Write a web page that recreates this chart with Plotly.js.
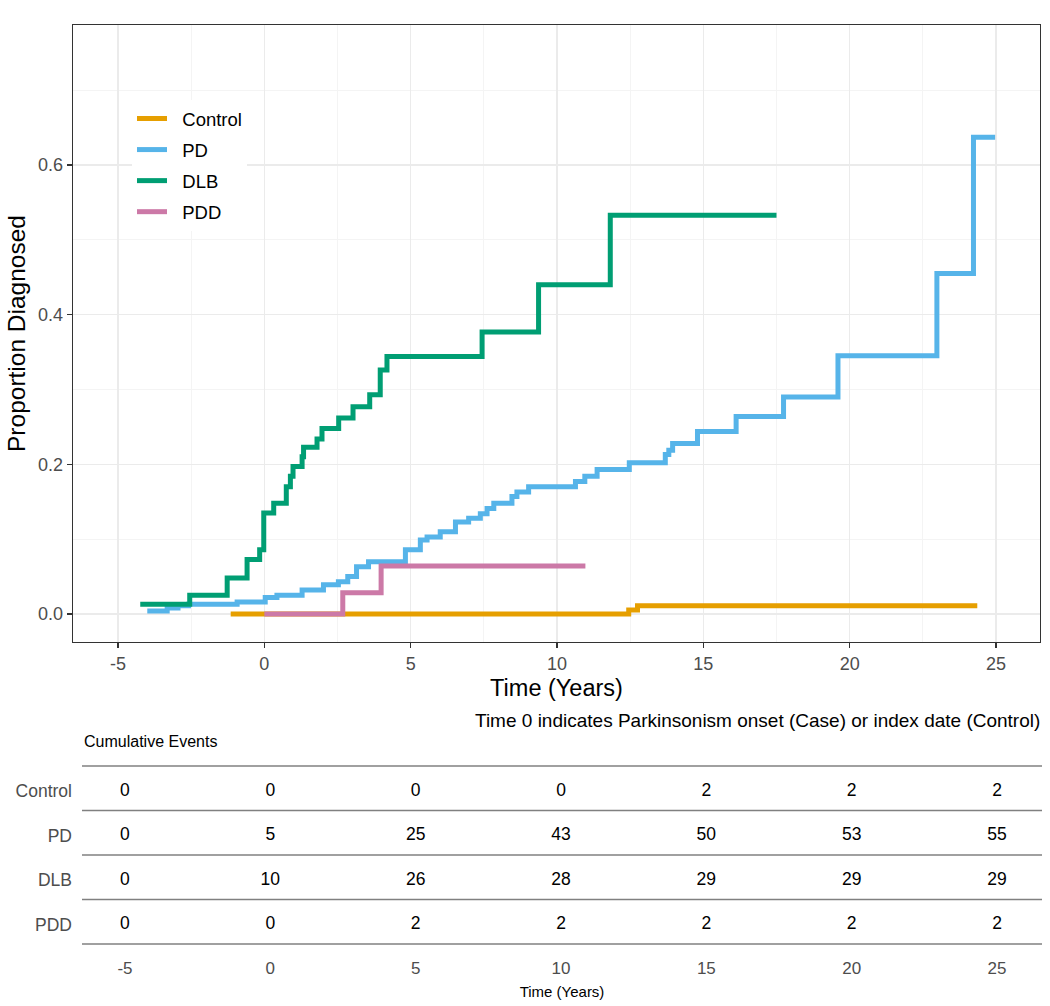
<!DOCTYPE html>
<html>
<head>
<meta charset="utf-8">
<script src="https://cdn.plot.ly/plotly-3.0.1.min.js"></script>
<style>html,body{margin:0;padding:0;background:#fff;}#chart{width:1050px;height:1006px;}</style>
</head>
<body>
<div id="chart"></div>
<script>
// ---- Step curve data (time in years, proportion diagnosed) ----
const controlTime = [-1.15, 12.45, 12.75, 24.36];
const controlProp = [0.0, 0.0055, 0.011, 0.011];

const pdTime = [-4.0, -3.32, -2.95, -2.59, -0.93, 0.03, 0.43, 1.29, 2.02, 2.53, 2.85, 3.15, 3.56, 4.82, 5.33, 5.56, 6.01, 6.53, 6.98, 7.38, 7.61, 7.84, 8.46, 8.63, 9.03, 10.63, 10.95, 11.37, 12.47, 13.7, 13.82, 13.95, 14.8, 16.12, 17.74, 19.6, 22.98, 24.23, 24.97];
const pdProp = [0.004, 0.008, 0.011, 0.013, 0.016, 0.022, 0.025, 0.032, 0.039, 0.043, 0.050, 0.063, 0.070, 0.086, 0.099, 0.103, 0.110, 0.123, 0.128, 0.134, 0.141, 0.148, 0.157, 0.163, 0.170, 0.177, 0.184, 0.193, 0.202, 0.213, 0.219, 0.228, 0.244, 0.264, 0.290, 0.345, 0.455, 0.637, 0.637];

const dlbTime = [-4.24, -2.55, -1.27, -0.59, -0.16, -0.02, 0.32, 0.75, 0.89, 0.98, 1.29, 1.34, 1.80, 1.97, 2.54, 3.03, 3.60, 3.96, 4.19, 7.44, 9.37, 11.82, 17.5];
const dlbProp = [0.013, 0.025, 0.048, 0.073, 0.086, 0.135, 0.148, 0.170, 0.184, 0.197, 0.210, 0.223, 0.234, 0.248, 0.262, 0.277, 0.293, 0.326, 0.344, 0.377, 0.440, 0.533, 0.533];

const pddTime = [0.0, 2.68, 3.99, 10.97];
const pddProp = [0.0, 0.0285, 0.064, 0.064];

// ---- Risk table: cumulative events ----
const groups = ["Control", "PD", "DLB", "PDD"];
const tableTimes = [-5, 0, 5, 10, 15, 20, 25];
const eventsControl = [0, 0, 0, 0, 2, 2, 2];
const eventsPD = [0, 5, 25, 43, 50, 53, 55];
const eventsDLB = [0, 10, 26, 28, 29, 29, 29];
const eventsPDD = [0, 0, 2, 2, 2, 2, 2];

const xTicks = [-5, 0, 5, 10, 15, 20, 25];
const xTickText = ["-5", "0", "5", "10", "15", "20", "25"];
const yTicks = [0.0, 0.2, 0.4, 0.6];
const yTickText = ["0.0", "0.2", "0.4", "0.6"];

const colors = {Control: "#E69F00", PD: "#56B4E9", DLB: "#009E73", PDD: "#CC79A7"};
const FONT = "Liberation Sans, Arial, Helvetica, sans-serif";
const W = 1050, H = 1006;

const curves = [
  ["Control", controlTime, controlProp],
  ["PD", pdTime, pdProp],
  ["DLB", dlbTime, dlbProp],
  ["PDD", pddTime, pddProp]
];

const traces = curves.map(([name, t, p]) => ({
  type: "scatter", mode: "lines", name: "\u00a0\u00a0" + name, x: t, y: p,
  line: {shape: "hv", color: colors[name], width: 5},
  legendgroup: name, xaxis: "x", yaxis: "y", hoverinfo: "skip"
}));

const eventRows = [eventsControl, eventsPD, eventsDLB, eventsPDD];
eventRows.forEach((vals, i) => {
  traces.push({
    type: "scatter", mode: "text", x: tableTimes, y: tableTimes.map(() => i + 1),
    text: vals.map(String), textposition: "middle center",
    textfont: {family: FONT, size: 17.5, color: "#000"},
    xaxis: "x2", yaxis: "y2", showlegend: false, hoverinfo: "skip", cliponaxis: false
  });
});

const px = v => v / W;
const py = v => (H - v) / H;

const shapes = [766, 810.5, 855, 899.5, 944].map(yp => ({
  type: "line", xref: "paper", yref: "paper", x0: px(82), x1: px(1042), y0: py(yp), y1: py(yp),
  line: {color: "#808080", width: 1.5}
}));

const layout = {
  width: W, height: H,
  margin: {l: 0, r: 0, t: 0, b: 0},
  paper_bgcolor: "#fff", plot_bgcolor: "#fff",
  font: {family: FONT, color: "#000"},
  showlegend: true,
  legend: {
    x: px(132), y: py(100), xanchor: "left", yanchor: "top",
    bgcolor: "#fff", font: {size: 18.5, color: "#000"},
    tracegroupgap: 4, itemwidth: 30, traceorder: "grouped"
  },
  xaxis: {
    domain: [px(73), px(1040)], range: [-6.538, 26.503], anchor: "y",
    tickvals: xTicks, ticktext: xTickText, ticks: "outside", ticklen: 5, tickcolor: "#333", tickwidth: 1.2,
    tickfont: {size: 18, color: "#4d4d4d"},
    showline: true, mirror: true, linecolor: "#333", linewidth: 1.3,
    showgrid: true, gridcolor: "#ebebeb", gridwidth: 1.2, zeroline: false,
    minor: {dtick: 2.5, tick0: -2.5, showgrid: true, gridcolor: "#f4f4f4", gridwidth: 1},
    title: {text: "Time (Years)", font: {size: 23.5, color: "#000"}, standoff: 6},
    automargin: false
  },
  yaxis: {
    domain: [py(642), py(25)], range: [-0.0374, 0.7871], anchor: "x",
    tickvals: yTicks, ticktext: yTickText, ticks: "outside", ticklen: 5, tickcolor: "#333", tickwidth: 1.2,
    tickfont: {size: 18, color: "#4d4d4d"},
    showline: true, mirror: true, linecolor: "#333", linewidth: 1.3,
    showgrid: true, gridcolor: "#ebebeb", gridwidth: 1.2, zeroline: false,
    minor: {dtick: 0.1, tick0: 0.1, showgrid: true, gridcolor: "#f4f4f4", gridwidth: 1},
    title: {text: "Proportion Diagnosed", font: {size: 24.5, color: "#000"}, standoff: 5},
    automargin: false
  },
  xaxis2: {
    domain: [px(82), px(1042)], range: [-6.479, 26.548], anchor: "y2",
    tickvals: tableTimes, ticktext: xTickText, ticks: "", tickfont: {size: 17, color: "#4d4d4d"},
    ticklabelstandoff: 12,
    showline: false, showgrid: false, zeroline: false,
    title: {text: "Time (Years)", font: {size: 15, color: "#000"}, standoff: 9},
    automargin: false
  },
  yaxis2: {
    domain: [py(944), py(766)], range: [4.433, 0.433], anchor: "x2",
    tickvals: [1, 2, 3, 4], ticktext: groups, ticks: "",
    tickfont: {size: 17.5, color: "#4d4d4d"}, ticklabelstandoff: 9,
    showline: false, showgrid: false, zeroline: false, automargin: false
  },
  shapes: shapes,
  annotations: [
    {xref: "paper", yref: "paper", x: px(1042), y: py(720), xanchor: "right", yanchor: "middle",
     text: "Time 0 indicates Parkinsonism onset (Case) or index date (Control)", showarrow: false,
     font: {size: 19, color: "#000"}},
    {xref: "paper", yref: "paper", x: px(82), y: py(741), xanchor: "left", yanchor: "middle",
     text: "Cumulative Events", showarrow: false, font: {size: 16, color: "#000"}}
  ]
};

Plotly.newPlot("chart", traces, layout, {displayModeBar: false, staticPlot: true});
</script>
</body>
</html>
